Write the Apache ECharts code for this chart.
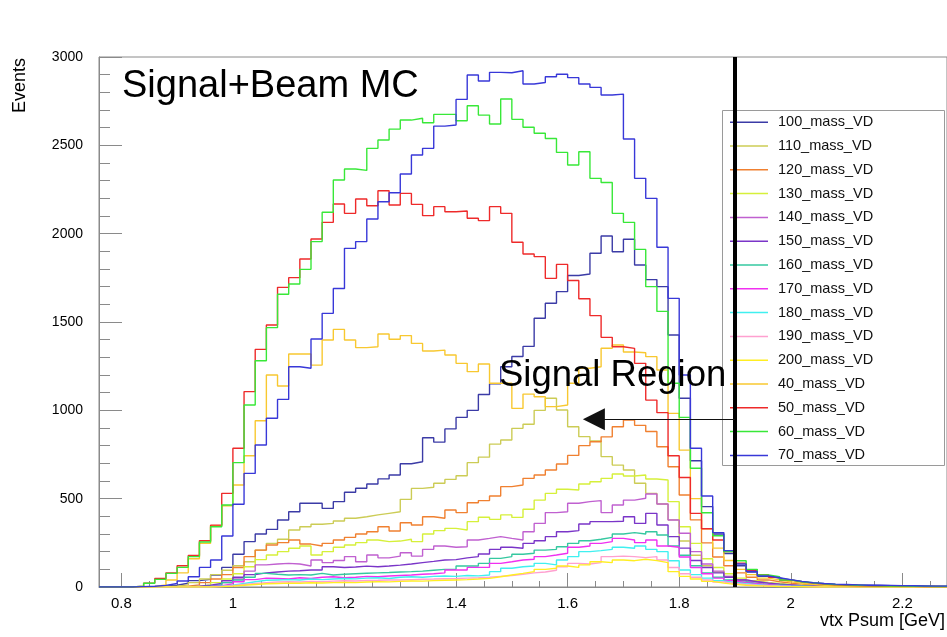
<!DOCTYPE html>
<html>
<head>
<meta charset="utf-8">
<title>vtx Psum</title>
<script src="https://cdn.jsdelivr.net/npm/echarts@6/dist/echarts.min.js"></script>
<style>
  html, body { margin: 0; padding: 0; background: #fff; }
  #chart { width: 947px; height: 637px; }
</style>
</head>
<body>
<div id="chart"></div>
<script>
// Histogram binning: 76 bins of 0.02 GeV starting at 0.76 GeV
const binLow = 0.76;
const binWidth = 0.02;

// Axis tick labels
const xTickLabels = [0.8, 1, 1.2, 1.4, 1.6, 1.8, 2, 2.2];
const yTickStep = 500;
const yMax = 3000;

// Cut position and signal-region arrow level
const cutPsum = 1.9;
const arrowLevel = 950;

// Series names, in legend order
const seriesNames = ['100_mass_VD', '110_mass_VD', '120_mass_VD', '130_mass_VD', '140_mass_VD',
  '150_mass_VD', '160_mass_VD', '170_mass_VD', '180_mass_VD', '190_mass_VD', '200_mass_VD',
  '40_mass_VD', '50_mass_VD', '60_mass_VD', '70_mass_VD'];

// Bin contents (events per bin)
const m100 = [0,0,0,0,0,5,10,21,36,43, 68,111,185,257,300,326,379,426,474,474,
  445,483,536,559,583,612,634,698,709,845, 820,895,960,1000,1090,1150,1247,1305,1362,1521,
  1606,1672,1763,1772,1889,1987,1898,1968,1823,1740, 1700,1426,1068,715,455,300,190,120,85,60,
  50,40,30,22,18,15,13,11,10,9, 8,7,6,5,5,4];
const m110 = [0,0,0,0,0,0,5,12,25,45, 70,95,120,143,209,247,270,323,341,355,
  360,374,389,398,408,417,426,496,558,565, 587,609,630,704,735,809,832,898,921,1000,
  1068,1002,907,851,826,738,690,662,587,530, 470,380,260,180,120,85,60,40,30,22,
  16,12,8,6,4,3,2,1,0,0, 0,0,0,0,0,0];
const m120 = [0,0,0,0,0,0,0,5,12,25, 45,70,110,172,209,238,251,266,243,232,
  247,266,281,300,313,341,317,364,351,398, 389,436,421,477,489,515,568,577,615,634,
  662,696,745,800,822,850,907,945,915,880, 794,681,521,380,250,170,120,80,55,40,
  30,22,16,12,8,5,3,2,1,0, 0,0,0,0,0,0];
const m130 = [0,0,0,0,0,0,0,0,5,12, 25,45,75,115,155,181,200,219,232,181,
  200,225,238,251,266,257,260,270,257,300, 319,332,323,370,395,383,408,394,440,492,
  530,553,549,583,596,615,640,628,634,611, 606,483,341,247,160,110,75,50,36,26,
  20,14,10,7,5,3,2,1,0,0, 0,0,0,0,0,0];
const m140 = [0,0,0,0,0,0,0,0,0,5, 12,25,45,90,125,130,134,130,119,153,
  138,150,172,143,181,165,175,194,175,213, 232,225,228,266,275,285,275,266,313,360,
  421,426,474,483,489,421,464,492,502,526, 470,379,304,200,130,90,60,42,30,22,
  16,12,8,6,4,2,1,0,0,0, 0,0,0,0,0,0];
const m150 = [0,0,0,0,0,0,0,0,4,10, 20,35,55,70,80,85,90,92,96,96,
  115,110,113,118,115,119,124,130,138,145, 153,155,165,172,187,213,225,219,247,262,
  285,313,319,357,370,370,372,398,360,417, 351,285,220,150,110,80,55,40,30,22,
  16,12,8,6,4,2,1,0,0,0, 0,0,0,0,0,0];
const m160 = [0,0,0,0,0,0,0,0,0,4, 12,25,40,55,77,72,68,70,68,77,
  68,72,75,78,80,82,85,87,90,95, 100,100,119,119,134,162,172,185,191,209,
  213,228,247,262,270,281,300,308,300,313, 294,232,180,120,80,55,40,28,20,15,
  11,8,6,4,3,2,1,0,0,0, 0,0,0,0,0,0];
const m170 = [0,0,0,0,0,0,0,0,0,3, 8,18,30,42,50,48,45,52,48,55,
  58,52,55,60,58,62,65,68,72,75, 80,96,96,111,111,134,143,153,157,172,
  181,191,225,232,247,257,275,266,251,266, 232,225,170,110,75,50,35,25,18,13,
  9,6,4,3,2,1,0,0,0,0, 0,0,0,0,0,0];
const m180 = [0,0,0,0,0,0,0,0,0,0, 5,10,20,30,38,40,42,40,45,42,
  45,48,46,50,52,48,55,58,55,60, 62,60,65,63,68,87,106,115,119,134,
  125,153,172,200,206,213,225,219,232,213, 200,149,96,70,50,35,25,18,13,9,
  6,4,3,2,1,0,0,0,0,0, 0,0,0,0,0,0];
const m190 = [0,0,0,0,0,0,0,0,0,0, 3,8,14,20,25,28,30,28,32,30,
  33,35,34,37,38,40,40,42,44,45, 47,48,50,52,55,60,65,72,80,85,
  95,115,134,130,138,172,175,172,166,172, 153,110,75,55,40,28,20,14,10,7,
  5,3,2,1,0,0,0,0,0,0, 0,0,0,0,0,0];
const m200 = [0,0,0,0,0,0,0,0,0,0, 2,5,10,14,18,20,22,21,24,23,
  25,26,25,28,30,29,32,34,33,36, 38,40,42,45,49,58,68,77,87,100,
  106,119,111,125,143,138,153,149,157,149, 138,87,60,45,32,22,15,10,7,5,
  3,2,1,0,0,0,0,0,0,0, 0,0,0,0,0,0];
const m40 = [0,0,0,0,3,12,40,80,160,247, 347,460,577,743,941,1200,1138,1319,1319,1256,
  1398,1458,1398,1355,1360,1432,1402,1423,1379,1336, 1341,1313,1266,1219,1262,1153,1153,1011,1092,1077,
  1021,1030,1153,1238,1247,1351,1370,1330,1326,1304, 1228,983,775,500,330,220,150,100,70,50,
  40,30,22,15,10,7,5,3,2,1, 1,0,0,0,0,0];
const m50 = [0,0,0,5,22,48,80,120,178,262, 350,530,785,1106,1345,1483,1696,1751,1857,1970,
  2064,2168,2115,2196,2158,2243,2162,2228,2166,2102, 2153,2124,2128,2087,2074,2153,2115,1951,1885,1870,
  1747,1826,1735,1632,1536,1413,1360,1351,1266,1058, 987,743,620,417,330,266,200,135,95,70,
  55,40,30,22,16,12,10,8,7,6, 5,4,4,3,3,2];
const m60 = [0,0,0,5,21,43,77,111,172,255, 341,464,704,1030,1281,1468,1657,1715,1798,1955,
  2121,2304,2366,2358,2483,2530,2592,2643,2653,2628, 2675,2675,2639,2724,2671,2621,2762,2647,2602,2568,
  2539,2460,2389,2464,2313,2290,2115,2064,1911,1700, 1560,1153,960,672,420,290,200,149,100,68,
  58,40,30,24,18,14,12,10,8,7, 6,5,4,4,3,3];
const m70 = [0,0,0,2,4,9,20,34,58,111, 153,289,468,643,804,955,1062,1247,1238,1404,
  1549,1690,1917,1955,2083,2181,2232,2338,2445,2483, 2609,2615,2760,2898,2864,2913,2911,2922,2847,2856,
  2888,2902,2883,2847,2828,2785,2790,2536,2313,2200, 1923,1634,1200,785,515,308,206,130,88,62,
  52,42,32,25,20,16,14,12,10,10, 9,8,7,6,5,5];

const seriesValues = [m100, m110, m120, m130, m140, m150, m160, m170, m180, m190, m200, m40, m50, m60, m70];
const seriesColors = ['#3b3ba6', '#cccc55', '#f08030', '#d6f03a', '#c060d0', '#7a35c8', '#35c8a0',
  '#f030f0', '#40f0f0', '#ffa0d0', '#ffee22', '#f8c830', '#ee2a2a', '#38e838', '#3838d8'];

const FONT = 'Liberation Sans';
const nBins = m60.length;
const xMin = binLow;
const xMax = +(binLow + nBins * binWidth).toFixed(2);

// Bin edge helper: one point per left edge, plus a closing point at the last right edge
function histPoints(vals) {
  const pts = vals.map((v, i) => [+(binLow + i * binWidth).toFixed(2), v]);
  pts.push([xMax, vals[vals.length - 1]]);
  return pts;
}

// Secondary tick positions (every 0.05 GeV on x)
const xMinorTicks = [];
for (let k = 16; k <= 45; k++) xMinorTicks.push(Math.round(k * 5) / 100);

const series = seriesNames.map((name, k) => ({
  name: name,
  type: 'line',
  step: 'end',
  symbol: 'none',
  showSymbol: false,
  data: histPoints(seriesValues[k]),
  lineStyle: { width: 1.4, color: seriesColors[k] },
  itemStyle: { color: seriesColors[k] },
  emphasis: { disabled: true },
  silent: true,
  z: 2
}));

// Cut line and signal-region arrow
series[series.length - 1].markLine = {
  silent: true,
  animation: false,
  symbol: ['none', 'none'],
  label: { show: false },
  data: [
    { xAxis: cutPsum, lineStyle: { color: '#000', width: 4, type: 'solid' } },
    [
      { coord: [cutPsum, arrowLevel], symbol: 'none', lineStyle: { color: '#111', width: 1.2, type: 'solid' } },
      { coord: [1.647, arrowLevel], symbol: 'triangle', symbolSize: 22 }
    ]
  ]
};

const chart = echarts.init(document.getElementById('chart'), null, { renderer: 'canvas' });
chart.setOption({
  animation: false,
  backgroundColor: '#fff',
  grid: { left: 99, right: 0, top: 57, bottom: 50, show: true, borderColor: '#8a8a8a', borderWidth: 1, backgroundColor: 'transparent' },
  xAxis: [
    {
      type: 'value', min: xMin, max: xMax,
      axisLine: { show: true, lineStyle: { color: '#8a8a8a', width: 1 } },
      axisTick: { show: true, inside: true, length: 14, customValues: xTickLabels, lineStyle: { color: '#8a8a8a' } },
      axisLabel: { show: true, customValues: xTickLabels, margin: 9, fontFamily: FONT, fontSize: 15, color: '#000',
        formatter: v => String(v) },
      splitLine: { show: false }
    },
    {
      type: 'value', min: xMin, max: xMax, position: 'bottom',
      axisLine: { show: false },
      axisTick: { show: true, inside: true, length: 6, customValues: xMinorTicks, lineStyle: { color: '#8a8a8a' } },
      axisLabel: { show: false },
      splitLine: { show: false }
    }
  ],
  yAxis: [
    {
      type: 'value', min: 0, max: yMax, interval: yTickStep, position: 'left',
      axisLine: { show: true, lineStyle: { color: '#8a8a8a', width: 1 } },
      axisTick: { show: true, inside: true, length: 23, lineStyle: { color: '#8a8a8a' } },
      axisLabel: { margin: 16, fontFamily: FONT, fontSize: 14, color: '#000', formatter: v => String(v) },
      splitLine: { show: false }
    },
    {
      type: 'value', min: 0, max: yMax, interval: 100, position: 'left',
      axisLine: { show: false },
      axisTick: { show: true, inside: true, length: 11, lineStyle: { color: '#8a8a8a' } },
      axisLabel: { show: false },
      splitLine: { show: false }
    }
  ],
  legend: {
    data: seriesNames,
    orient: 'vertical',
    left: 722,
    top: 110,
    padding: [4.7, 0, 0, 8],
    itemWidth: 38,
    itemHeight: 14,
    itemGap: 8.8,
    icon: 'path://M0,0 L38,0 L38,1.5 L0,1.5 Z',
    selectedMode: false,
    textStyle: { fontFamily: FONT, fontSize: 14.5, color: '#111', lineHeight: 14, padding: [0, 0, 0, 5] },
    z: 4
  },
  graphic: [
    { type: 'rect', z: 3, silent: true, shape: { x: 722.5, y: 110.5, width: 222, height: 355 },
      style: { fill: '#fff', stroke: '#9a9a9a', lineWidth: 1 } },
    { type: 'text', z: 10, silent: true, x: 122, y: 87,
      style: { text: 'Signal+Beam MC', font: '38px "Liberation Sans"', fill: '#000', align: 'left', verticalAlign: 'middle' } },
    { type: 'text', z: 10, silent: true, x: 499, y: 376,
      style: { text: 'Signal Region', font: '36.5px "Liberation Sans"', fill: '#000', align: 'left', verticalAlign: 'middle' } },
    { type: 'text', z: 10, silent: true, x: 20, y: 58, rotation: Math.PI / 2,
      style: { text: 'Events', font: '18px "Liberation Sans"', fill: '#000', align: 'right', verticalAlign: 'middle' } },
    { type: 'text', z: 10, silent: true, x: 945, y: 621,
      style: { text: 'vtx Psum [GeV]', font: '18px "Liberation Sans"', fill: '#000', align: 'right', verticalAlign: 'middle' } }
  ],
  series: series
});
</script>
</body>
</html>
